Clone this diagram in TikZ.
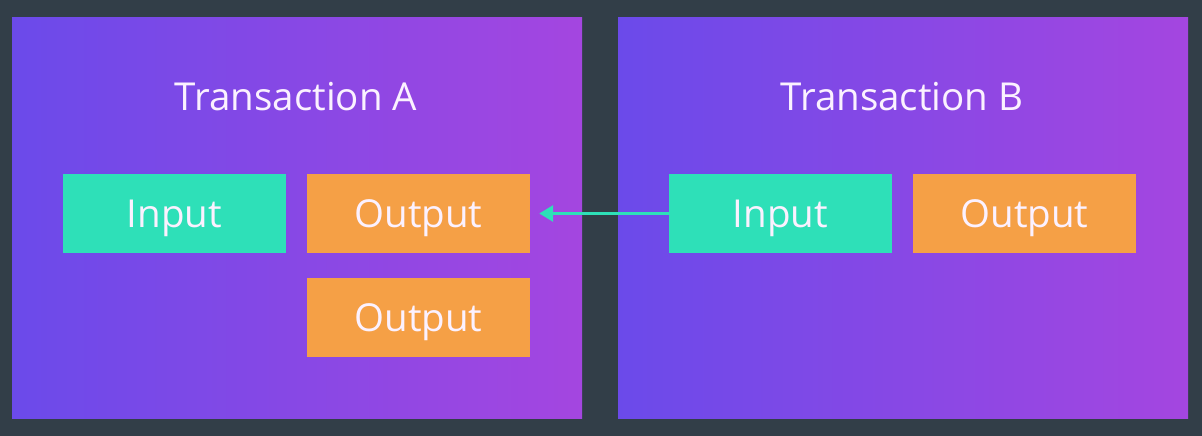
\documentclass[tikz,border=0pt]{standalone}
\usepackage{fontspec}
\setmainfont{Open Sans}
\usetikzlibrary{arrows.meta}
\definecolor{bg}{HTML}{323E48}
\definecolor{pl}{HTML}{6B4AEA}
\definecolor{pr}{HTML}{A446E0}
\definecolor{teal}{HTML}{2EE0B8}
\definecolor{orng}{HTML}{F5A046}
\definecolor{txt}{HTML}{FBF1FF}
\tikzset{
  panel/.style={left color=pl, right color=pr, draw=none},
  box/.style={minimum width=223pt, minimum height=79pt, inner sep=0pt, text height=30pt, text depth=3pt, text=txt, font=\fontsize{38.5}{44}\selectfont},
  inbox/.style={box, fill=teal},
  outbox/.style={box, fill=orng},
  title/.style={text=txt, font=\fontsize{38.5}{44}\selectfont, inner sep=0pt},
  link/.style={draw=teal, line width=3pt, -{Triangle[length=14pt,width=16pt]}}
}
\begin{document}
\begin{tikzpicture}[x=1pt,y=-1pt]
\fill[bg] (0,0) rectangle (1202,436);
\useasboundingbox (0,0) rectangle (1202,436);
\shade[panel] (12,18) rectangle (582,418);
\shade[panel] (618,18) rectangle (1188,418);
\node[title] (ta) at (296,97) {Transaction A};
\node[title] (tb) at (902,97) {Transaction B};
\node[inbox] (ina) at (174.5,213.5) {Input};
\node[outbox] (outa) at (418.5,213.5) {Output};
\node[outbox] (outa2) at (418.5,317.5) {Output};
\node[inbox] (inb) at (780.5,213.5) {Input};
\node[outbox] (outb) at (1024.5,213.5) {Output};
\draw[link] (inb.west) -- ([xshift=9pt]outa.east);
\end{tikzpicture}
\end{document}
